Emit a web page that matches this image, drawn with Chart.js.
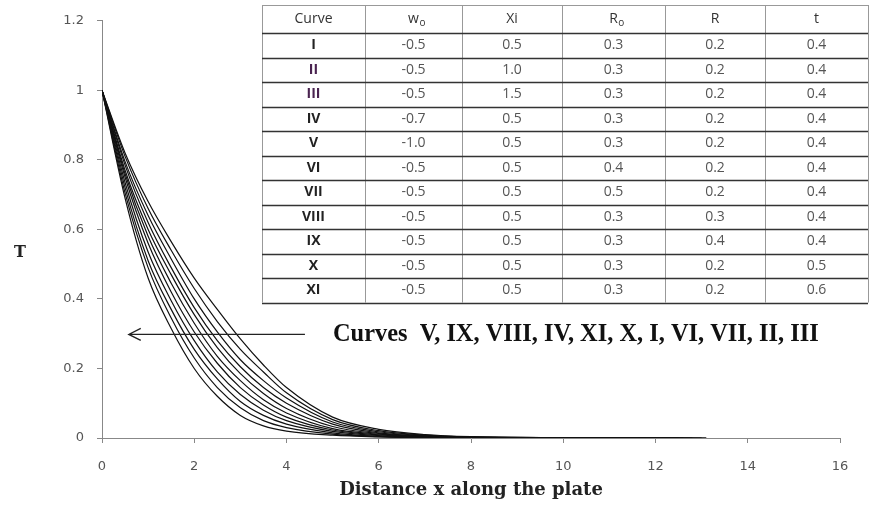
<!DOCTYPE html>
<html>
<head>
<meta charset="utf-8">
<script src="https://cdn.jsdelivr.net/npm/chart.js@4/dist/chart.umd.min.js"></script>
<style>
  html, body { margin: 0; padding: 0; background: #fff; }
  #wrap { width: 872px; height: 506px; }
</style>
</head>
<body>
<div id="wrap"><canvas id="myChart" width="872" height="506"></canvas></div>
<script>
// Distance x along the plate (shared sample points)
const xValues = [0, 0.5, 1, 1.5, 2, 2.5, 3, 3.5, 4, 5, 6, 7, 8, 10];

// Temperature T for each curve
const curveV    = [1, 0.69, 0.46, 0.315, 0.20, 0.12, 0.065, 0.035, 0.02, 0.008, 0.003, 0.001, 0, 0];
const curveIX   = [1, 0.705, 0.49, 0.345, 0.23, 0.145, 0.087, 0.05, 0.03, 0.011, 0.004, 0.0015, 0, 0];
const curveVIII = [1, 0.72, 0.51, 0.37, 0.255, 0.17, 0.105, 0.065, 0.04, 0.015, 0.005, 0.002, 0.001, 0];
const curveIV   = [1, 0.735, 0.535, 0.395, 0.28, 0.19, 0.125, 0.08, 0.05, 0.019, 0.007, 0.0025, 0.001, 0];
const curveXI   = [1, 0.75, 0.56, 0.42, 0.305, 0.215, 0.145, 0.095, 0.06, 0.023, 0.009, 0.003, 0.001, 0];
const curveX    = [1, 0.76, 0.58, 0.445, 0.33, 0.235, 0.165, 0.11, 0.072, 0.027, 0.011, 0.004, 0.001, 0];
const curveI    = [1, 0.77, 0.60, 0.47, 0.355, 0.26, 0.185, 0.128, 0.085, 0.033, 0.013, 0.005, 0.002, 0];
const curveVI   = [1, 0.785, 0.62, 0.49, 0.375, 0.28, 0.205, 0.145, 0.10, 0.04, 0.015, 0.006, 0.002, 0];
const curveVII  = [1, 0.795, 0.64, 0.515, 0.40, 0.305, 0.225, 0.165, 0.115, 0.046, 0.018, 0.007, 0.003, 0.001];
const curveII   = [1, 0.81, 0.66, 0.54, 0.43, 0.335, 0.255, 0.19, 0.13, 0.053, 0.021, 0.008, 0.003, 0.001];
const curveIII  = [1, 0.82, 0.68, 0.565, 0.46, 0.37, 0.285, 0.21, 0.145, 0.06, 0.025, 0.01, 0.004, 0.001];

// where each tail ends on the axis (T = 0)
const curveNames = ["V", "IX", "VIII", "IV", "XI", "X", "I", "VI", "VII", "II", "III"];
const curveSeries = [curveV, curveIX, curveVIII, curveIV, curveXI, curveX, curveI, curveVI, curveVII, curveII, curveIII];
const curveEnds = [12.0, 12.2, 12.4, 12.5, 12.5, 12.4, 12.6, 13.0, 13.1, 12.8, 13.1];

const xTicks = [0, 2, 4, 6, 8, 10, 12, 14, 16];
const yTicks = [0, 0.2, 0.4, 0.6, 0.8, 1, 1.2];

// parameter table
const tableHeader = ["Curve", "w", "Xi", "R", "R", "t"];
const tableRows = [
    ["I", "-0.5", "0.5", "0.3", "0.2", "0.4"],
    ["II", "-0.5", "1.0", "0.3", "0.2", "0.4"],
    ["III", "-0.5", "1.5", "0.3", "0.2", "0.4"],
    ["IV", "-0.7", "0.5", "0.3", "0.2", "0.4"],
    ["V", "-1.0", "0.5", "0.3", "0.2", "0.4"],
    ["VI", "-0.5", "0.5", "0.4", "0.2", "0.4"],
    ["VII", "-0.5", "0.5", "0.5", "0.2", "0.4"],
    ["VIII", "-0.5", "0.5", "0.3", "0.3", "0.4"],
    ["IX", "-0.5", "0.5", "0.3", "0.4", "0.4"],
    ["X", "-0.5", "0.5", "0.3", "0.2", "0.5"],
    ["XI", "-0.5", "0.5", "0.3", "0.2", "0.6"],
];
const annotationText = "Curves  V, IX, VIII, IV, XI, X, I, VI, VII, II, III";

// build datasets
const datasets = curveSeries.map(function (vals, i) {
    const pts = xValues.map(function (x, j) { return { x: x, y: vals[j] }; });
    pts.push({ x: curveEnds[i], y: 0 });
    return {
        label: curveNames[i],
        data: pts,
        borderColor: "#111",
        borderWidth: 1.2,
        pointRadius: 0,
        fill: false,
        cubicInterpolationMode: "monotone",
    };
});

// draws the table, the arrow with its note, and the upright "T"
const extrasPlugin = {
    id: "extras",
    afterDraw: function (chart) {
        const ctx = chart.ctx;
        const xs = chart.scales.x, ys = chart.scales.y;
        ctx.save();

        // y title, upright
        ctx.fillStyle = "#222";
        ctx.font = "bold 16px 'DejaVu Serif', serif";
        ctx.textAlign = "center";
        ctx.textBaseline = "middle";
        ctx.fillText("T", 20, 253);

        // table
        const colX = [262, 365, 462, 562, 665, 765, 868];
        const top = 5, headH = 28, rowH = 24.5;
        const bottom = top + headH + rowH * tableRows.length;
        ctx.fillStyle = "#fff";
        ctx.fillRect(colX[0], top, colX[6] - colX[0], bottom - top);

        ctx.strokeStyle = "#999";
        ctx.lineWidth = 1;
        for (let c = 0; c < colX.length; c++) {
            ctx.beginPath();
            ctx.moveTo(colX[c] + 0.5, top);
            ctx.lineTo(colX[c] + 0.5, bottom);
            ctx.stroke();
        }
        ctx.beginPath();
        ctx.moveTo(colX[0], top + 0.5);
        ctx.lineTo(colX[6], top + 0.5);
        ctx.stroke();

        ctx.strokeStyle = "#333";
        ctx.lineWidth = 1.5;
        for (let r = 0; r <= tableRows.length; r++) {
            const yy = Math.round(top + headH + rowH * r) + 0.5;
            ctx.beginPath();
            ctx.moveTo(colX[0], yy);
            ctx.lineTo(colX[6], yy);
            ctx.stroke();
        }

        const cellFont = "14px 'Open Sans', 'Noto Sans', sans-serif";
        ctx.textAlign = "center";
        ctx.textBaseline = "middle";
        // header
        for (let c = 0; c < tableHeader.length; c++) {
            const cx = (colX[c] + colX[c + 1]) / 2;
            const cy = top + headH / 2;
            ctx.fillStyle = "#333";
            ctx.font = cellFont;
            ctx.fillText(tableHeader[c], cx, cy);
            if (c === 1 || c === 3) {
                const w = ctx.measureText(tableHeader[c]).width;
                ctx.font = "10px 'Open Sans', 'Noto Sans', sans-serif";
                ctx.textAlign = "left";
                ctx.fillText("o", cx + w / 2 + 0.5, cy + 4);
                ctx.textAlign = "center";
            }
        }
        // body
        for (let r = 0; r < tableRows.length; r++) {
            const cy = top + headH + rowH * r + rowH / 2;
            for (let c = 0; c < 6; c++) {
                const cx = (colX[c] + colX[c + 1]) / 2;
                if (c === 0) {
                    ctx.font = "bold 14px 'Open Sans', 'Noto Sans', sans-serif";
                    ctx.fillStyle = (r === 1 || r === 2) ? "#4a2350" : "#222";
                } else {
                    ctx.font = cellFont;
                    ctx.fillStyle = "#555";
                }
                ctx.fillText(tableRows[r][c], cx, cy);
            }
        }

        // arrow pointing at the curves
        const ay = ys.getPixelForValue(0.298);
        const tipX = xs.getPixelForValue(0.58);
        const tailX = xs.getPixelForValue(4.4);
        ctx.strokeStyle = "#222";
        ctx.lineWidth = 1.3;
        ctx.beginPath();
        ctx.moveTo(tailX, ay);
        ctx.lineTo(tipX, ay);
        ctx.moveTo(tipX + 12, ay - 6);
        ctx.lineTo(tipX, ay);
        ctx.lineTo(tipX + 12, ay + 6);
        ctx.stroke();

        // note
        ctx.fillStyle = "#111";
        ctx.textAlign = "left";
        ctx.textBaseline = "middle";
        let size = 19;
        ctx.font = "bold " + size + "px 'Liberation Serif', 'Times New Roman', serif";
        const want = 485;
        size = size * want / ctx.measureText(annotationText).width;
        ctx.font = "bold " + size.toFixed(1) + "px 'Liberation Serif', 'Times New Roman', serif";
        ctx.fillText(annotationText, 333, ay);

        ctx.restore();
    },
};

const ctxMain = document.getElementById("myChart").getContext("2d");
const myChart = new Chart(ctxMain, {
    type: "line",
    data: { datasets: datasets },
    options: {
        responsive: false,
        animation: false,
        layout: { padding: { top: 17, right: 32, left: 0, bottom: 0 } },
        plugins: {
            legend: { display: false },
            tooltip: { enabled: false },
        },
        scales: {
            x: {
                type: "linear",
                min: 0,
                max: 16,
                afterBuildTicks: function (scale) {
                    scale.ticks = xTicks.map(function (v) { return { value: v }; });
                },
                afterFit: function (scale) { scale.height = 68; },
                grid: { drawOnChartArea: false, drawTicks: true, tickLength: 5, color: "#888" },
                border: { color: "#888" },
                ticks: {
                    color: "#555",
                    font: { family: "'DejaVu Sans', sans-serif", size: 13 },
                    padding: 16,
                    maxRotation: 0,
                    callback: function (v) { return String(v); },
                },
                title: {
                    display: true,
                    text: "Distance x along the plate",
                    color: "#222",
                    font: { family: "'DejaVu Serif', serif", size: 18, weight: "bold" },
                    padding: { top: 2, bottom: 5 },
                },
            },
            y: {
                type: "linear",
                min: 0,
                max: 1.2,
                afterBuildTicks: function (scale) {
                    scale.ticks = yTicks.map(function (v) { return { value: v }; });
                },
                afterFit: function (scale) { scale.width = 102; },
                grid: { drawOnChartArea: false, drawTicks: true, tickLength: 5, color: "#888" },
                border: { color: "#888" },
                ticks: {
                    color: "#555",
                    font: { family: "'DejaVu Sans', sans-serif", size: 13 },
                    padding: 13,
                    callback: function (v) { return String(v); },
                },
            },
        },
    },
    plugins: [extrasPlugin],
});
</script>
</body>
</html>
